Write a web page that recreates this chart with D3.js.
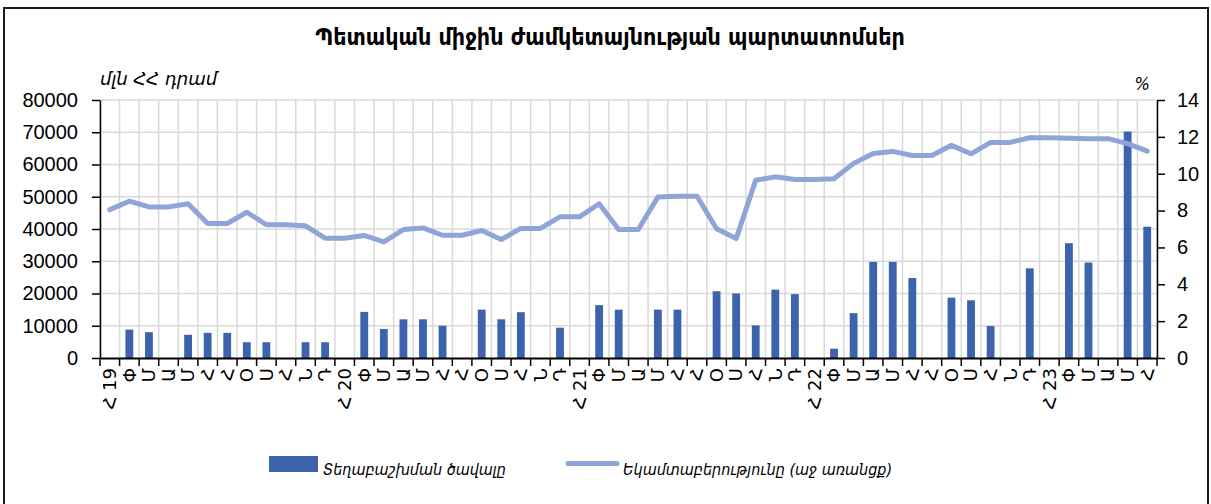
<!DOCTYPE html>
<html>
<head>
<meta charset="utf-8">
<script src="https://cdn.jsdelivr.net/npm/d3@7"></script>
<style>
  body { margin: 0; background: #fff; }
  svg text { fill: #000; }
</style>
</head>
<body>
<svg id="chart" width="1211" height="504"></svg>
<script>
// x labels: Armenian month initials, Jan 2019 .. Jun 2023
const monthLabels = [
  'Հ 19', 'Փ', 'Մ', 'Ա', 'Մ', 'Հ', 'Հ', 'Օ', 'Ս', 'Հ', 'Ն', 'Դ',
  'Հ 20', 'Փ', 'Մ', 'Ա', 'Մ', 'Հ', 'Հ', 'Օ', 'Ս', 'Հ', 'Ն', 'Դ',
  'Հ 21', 'Փ', 'Մ', 'Ա', 'Մ', 'Հ', 'Հ', 'Օ', 'Ս', 'Հ', 'Ն', 'Դ',
  'Հ 22', 'Փ', 'Մ', 'Ա', 'Մ', 'Հ', 'Հ', 'Օ', 'Ս', 'Հ', 'Ն', 'Դ',
  'Հ 23', 'Փ', 'Մ', 'Ա', 'Մ', 'Հ'
];

// placement volume, mln AMD (left axis)
const placement = [
  0, 8800, 8000, 0, 7200, 7800, 7800, 4900, 4900, 0, 4900, 4900,
  0, 14300, 9000, 12000, 12000, 10000, 0, 15000, 12000, 14200, 0, 9400,
  0, 16400, 15000, 0, 15000, 15000, 0, 20700, 20000, 10100, 21200, 19800,
  0, 2900, 13900, 29800, 29800, 24800, 0, 18700, 17900, 9900, 0, 27800,
  0, 35600, 29600, 0, 70200, 40700
];

// yield, % (right axis)
const yieldPct = [
  8.05, 8.51, 8.2, 8.2, 8.37, 7.3, 7.3, 7.91, 7.23, 7.23, 7.17, 6.5,
  6.5, 6.65, 6.3, 6.97, 7.06, 6.66, 6.66, 6.92, 6.43, 7.03, 7.03, 7.66,
  7.66, 8.37, 6.97, 6.97, 8.73, 8.78, 8.78, 7.01, 6.48, 9.65, 9.83, 9.69,
  9.69, 9.73, 10.56, 11.1, 11.21, 10.99, 10.99, 11.54, 11.08, 11.7, 11.7, 11.95,
  11.95, 11.93, 11.9, 11.9, 11.63, 11.23
];

const leftTicks = [0, 10000, 20000, 30000, 40000, 50000, 60000, 70000, 80000];
const rightTicks = [0, 2, 4, 6, 8, 10, 12, 14];

const titleText = 'Պետական միջին ժամկետայնության պարտատոմսեր';
const leftUnit = 'մլն ՀՀ դրամ';
const rightUnit = '%';
const barName = 'Տեղաբաշխման ծավալը';
const lineName = 'Եկամտաբերությունը (աջ առանցք)';

const barColor = '#3d63ad';
const lineColor = '#8fa5d7';
const gridColor = '#d9d9d9';
const numFont = '"Liberation Sans", "DejaVu Sans", sans-serif';
const armFont = '"DejaVu Sans", "Noto Sans", sans-serif';
const armCond = '"DejaVu Sans Condensed", "DejaVu Sans", sans-serif';

const plot = {left: 100, right: 1157, top: 100, bottom: 358};
const idx = d3.range(monthLabels.length);

const svg = d3.select('#chart');

// outer frame
svg.append('rect')
    .attr('x', 4).attr('y', 8)
    .attr('width', 1204).attr('height', 540)
    .attr('fill', 'none')
    .attr('stroke', '#1a1a1a')
    .attr('stroke-width', 2);

const x = d3.scaleBand()
    .domain(idx)
    .range([plot.left, plot.right])
    .padding(0);

const y = d3.scaleLinear()
    .domain([0, 80000])
    .range([plot.bottom, plot.top]);

const y2 = d3.scaleLinear()
    .domain([0, 14])
    .range([plot.bottom, plot.top]);

// grid
const grid = svg.append('g').attr('class', 'grid');
grid.selectAll('.hgrid')
    .data(leftTicks.slice(1))
    .enter()
    .append('line')
    .attr('x1', plot.left).attr('x2', plot.right)
    .attr('y1', d => y(d)).attr('y2', d => y(d))
    .attr('stroke', gridColor)
    .attr('stroke-width', 1.5);

const boundaries = idx.map(i => x(i)).concat([plot.right]);
grid.selectAll('.vgrid')
    .data(boundaries)
    .enter()
    .append('line')
    .attr('x1', d => d).attr('x2', d => d)
    .attr('y1', plot.top).attr('y2', plot.bottom)
    .attr('stroke', gridColor)
    .attr('stroke-width', 1.5);

// bars (months without placement are skipped)
const barW = x.bandwidth() * 0.4;
svg.append('g').attr('class', 'bars')
    .selectAll('rect')
    .data(idx.filter(i => placement[i] > 0))
    .enter()
    .append('rect')
    .attr('x', i => x(i) + (x.bandwidth() - barW) / 2)
    .attr('y', i => y(placement[i]))
    .attr('width', barW)
    .attr('height', i => y(0) - y(placement[i]))
    .attr('fill', barColor);

// yield line
const line = d3.line()
    .x(i => x(i) + x.bandwidth() / 2)
    .y(i => y2(yieldPct[i]));

svg.append('path')
    .datum(idx)
    .attr('d', line)
    .attr('fill', 'none')
    .attr('stroke', lineColor)
    .attr('stroke-width', 5)
    .attr('stroke-linejoin', 'round')
    .attr('stroke-linecap', 'round');

// left axis
const yAxis = svg.append('g')
    .attr('transform', `translate(${plot.left},0)`)
    .call(d3.axisLeft(y).tickValues(leftTicks).tickSize(8).tickSizeOuter(0).tickPadding(14).tickFormat(d3.format('d')));

// right axis
const y2Axis = svg.append('g')
    .attr('transform', `translate(${plot.right},0)`)
    .call(d3.axisRight(y2).tickValues(rightTicks).tickSize(8).tickSizeOuter(0).tickPadding(12).tickFormat(d3.format('d')));

[yAxis, y2Axis].forEach(a => {
  a.selectAll('text')
      .style('font-family', numFont)
      .style('font-size', '20px')
      .attr('fill', '#000');
  a.selectAll('line, path').attr('stroke', '#000').attr('stroke-width', 1.5);
});

// bottom axis: ticks at category boundaries, labels rotated
const xAxis = svg.append('g')
    .attr('transform', `translate(0,${plot.bottom})`)
    .call(d3.axisBottom(x).tickSize(0).tickSizeOuter(0).tickFormat(i => monthLabels[i]));
xAxis.select('.domain').attr('stroke', '#000').attr('stroke-width', 2);
xAxis.selectAll('.tick text')
    .attr('text-anchor', 'end')
    .attr('transform', 'translate(0,10) rotate(-90)')
    .attr('x', 0)
    .attr('y', 0)
    .attr('dy', '0.35em')
    .style('font-family', armFont)
    .style('font-size', '18px')
    .attr('fill', '#000');

xAxis.selectAll('.bound')
    .data(boundaries)
    .enter()
    .append('line')
    .attr('x1', d => d).attr('x2', d => d)
    .attr('y1', 0).attr('y2', 8)
    .attr('stroke', '#000')
    .attr('stroke-width', 1.5);

// title
svg.append('text')
    .attr('x', 610).attr('y', 45)
    .attr('text-anchor', 'middle')
    .style('font-family', armCond)
    .style('font-weight', 'bold')
    .style('font-size', '23px')
    .text(titleText);

// unit labels
svg.append('text')
    .attr('x', 100).attr('y', 85)
    .style('font-family', armFont)
    .style('font-style', 'italic')
    .style('font-size', '18px')
    .text(leftUnit);

svg.append('text')
    .attr('x', 1150).attr('y', 90)
    .attr('text-anchor', 'end')
    .style('font-family', armCond)
    .style('font-style', 'italic')
    .style('font-size', '18px')
    .text(rightUnit);

// legend
const legend = svg.append('g').attr('class', 'legend');
legend.append('rect')
    .attr('x', 269).attr('y', 456)
    .attr('width', 49).attr('height', 16)
    .attr('fill', barColor);
legend.append('text')
    .attr('x', 323).attr('y', 475)
    .style('font-family', armCond)
    .style('font-style', 'italic')
    .style('font-size', '16px')
    .text(barName);

legend.append('line')
    .attr('x1', 568).attr('x2', 617)
    .attr('y1', 463.5).attr('y2', 463.5)
    .attr('stroke', lineColor)
    .attr('stroke-width', 5)
    .attr('stroke-linecap', 'round');
legend.append('text')
    .attr('x', 623).attr('y', 475)
    .style('font-family', armCond)
    .style('font-style', 'italic')
    .style('font-size', '16px')
    .text(lineName);
</script>
</body>
</html>
